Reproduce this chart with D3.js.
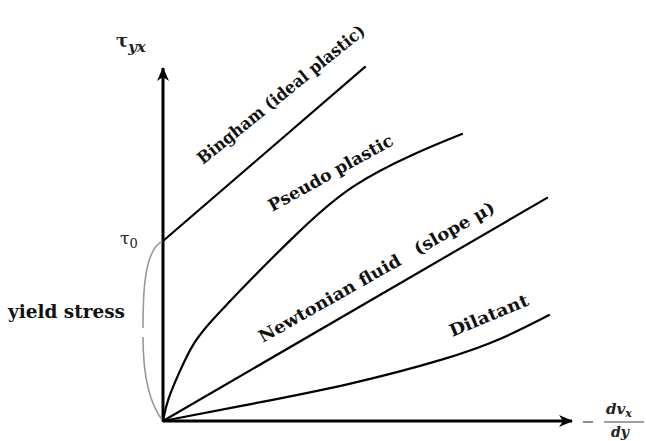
<!DOCTYPE html>
<html>
<head>
<meta charset="utf-8">
<script src="https://cdn.jsdelivr.net/npm/d3@7"></script>
<style>
  html, body { margin: 0; padding: 0; background: #fff; }
  svg { display: block; }
</style>
</head>
<body>
<svg id="chart" width="646" height="441"></svg>
<script>
// Shear rate (x) vs shear stress (y), arbitrary units 0..10
const binghamPts   = [[0, 5.10], [4.94, 10.03]];
const pseudoPts    = [[0, 0], [0.10, 0.59], [0.42, 1.44], [0.73, 2.21], [1.15, 2.80], [1.56, 3.30],
                      [2.05, 3.90], [3.35, 5.41], [4.57, 6.69], [6.21, 7.62], [7.31, 8.13]];
const newtonianPts = [[0, 0], [9.39, 6.32]];
const dilatantPts  = [[0, 0], [1.88, 0.42], [4.57, 1.02], [7.02, 1.78], [8.24, 2.29], [9.44, 3.00]];
const yieldStress  = 5.10;

const curveLabels = ["Bingham (ideal plastic)", "Pseudo plastic", "Newtonian fluid\u2003(slope \u03bc)", "Dilatant"];

const svg = d3.select("#chart");
const x = d3.scaleLinear().domain([0, 10]).range([163, 572]);
const y = d3.scaleLinear().domain([0, 10]).range([421, 68]);

// arrowhead marker for the axes
svg.append("defs").append("marker")
  .attr("id", "arrow")
  .attr("markerUnits", "userSpaceOnUse")
  .attr("viewBox", "-14 -7 16 14")
  .attr("refX", 0).attr("refY", 0)
  .attr("markerWidth", 16).attr("markerHeight", 14)
  .attr("orient", "auto")
  .append("path")
  .attr("d", "M1,0 L-13,-6 L-9,0 L-13,6 Z")
  .attr("fill", "#000");

// axes
svg.append("line")
  .attr("x1", x(0)).attr("y1", y(0)).attr("x2", x(0)).attr("y2", y(10))
  .attr("stroke", "#000").attr("stroke-width", 3)
  .attr("marker-end", "url(#arrow)");
svg.append("line")
  .attr("x1", x(0)).attr("y1", y(0)).attr("x2", x(10)).attr("y2", y(0))
  .attr("stroke", "#000").attr("stroke-width", 3)
  .attr("marker-end", "url(#arrow)");

// yield-stress bracket: two gray arcs between the origin and tau_0
const bx = x(0), bTop = y(yieldStress), bBot = y(0), bMid = (bTop + bBot) / 2;
const rx = 20, gap = 3;
svg.append("path")
  .attr("d", `M${bx},${bTop} C${bx - rx},${bTop + 8} ${bx - rx},${bMid - 30} ${bx - rx},${bMid - gap}`)
  .attr("fill", "none").attr("stroke", "#999").attr("stroke-width", 1.6);
svg.append("path")
  .attr("d", `M${bx - rx},${bMid + gap + 3} C${bx - rx},${bMid + 50} ${bx - rx * 0.6},${bBot - 15} ${bx},${bBot}`)
  .attr("fill", "none").attr("stroke", "#999").attr("stroke-width", 1.6);

// flow curves
const line = d3.line().x(d => x(d[0])).y(d => y(d[1])).curve(d3.curveBasis);
[binghamPts, pseudoPts, newtonianPts, dilatantPts].forEach(pts => {
  svg.append("path")
    .attr("d", line(pts))
    .attr("fill", "none")
    .attr("stroke", "#000")
    .attr("stroke-width", 2.2)
    .attr("stroke-linecap", "round");
});

// rotated curve labels: [text, x, y, angle, length]
const labelPlacement = [
  [curveLabels[0], 0.98, 7.25, -39, 210],
  [curveLabels[1], 2.67, 5.92, -29, 140],
  [curveLabels[2], 2.44, 2.21, -29.5, 268],
  [curveLabels[3], 7.07, 2.38, -22.5, 84]
];
labelPlacement.forEach(([t, lx, ly, ang, len]) => {
  svg.append("text")
    .attr("transform", `translate(${x(lx)},${y(ly)}) rotate(${ang})`)
    .attr("font-family", "DejaVu Serif")
    .attr("font-weight", "bold")
    .attr("font-size", 17)
    .attr("textLength", len)
    .attr("lengthAdjust", "spacingAndGlyphs")
    .style("white-space", "pre")
    .attr("fill", "#111")
    .text(t);
});

// y-axis title
const yt = svg.append("text")
  .attr("x", 116).attr("y", 47)
  .attr("font-family", "DejaVu Serif")
  .attr("font-weight", "bold")
  .attr("font-size", 18)
  .attr("fill", "#222");
yt.append("tspan").text("\u03c4");
yt.append("tspan").attr("dy", 5).attr("font-size", 15).attr("font-style", "italic").text("yx");

// tau_0
const t0 = svg.append("text")
  .attr("x", 120).attr("y", 244)
  .attr("font-family", "DejaVu Serif")
  .attr("font-size", 17)
  .attr("fill", "#222");
t0.append("tspan").text("\u03c4");
t0.append("tspan").attr("dy", 4).attr("font-size", 13).text("0");

// yield stress
svg.append("text")
  .attr("x", 8).attr("y", 318)
  .attr("font-family", "DejaVu Serif")
  .attr("font-weight", "bold")
  .attr("font-size", 18)
  .attr("textLength", 117)
  .attr("lengthAdjust", "spacingAndGlyphs")
  .attr("fill", "#111")
  .text("yield stress");

// x-axis title: - dv_x / dy
svg.append("line")
  .attr("x1", 583).attr("x2", 593).attr("y1", 422).attr("y2", 422)
  .attr("stroke", "#666").attr("stroke-width", 1.5);
const num = svg.append("text")
  .attr("x", 606).attr("y", 414)
  .attr("font-family", "DejaVu Serif")
  .attr("font-style", "italic")
  .attr("font-weight", "bold")
  .attr("font-size", 15)
  .attr("fill", "#222");
num.append("tspan").text("dv");
num.append("tspan").attr("dy", 3).attr("font-size", 11).text("x");
svg.append("line")
  .attr("x1", 604).attr("x2", 644).attr("y1", 422).attr("y2", 422)
  .attr("stroke", "#444").attr("stroke-width", 1.2);
svg.append("text")
  .attr("x", 611).attr("y", 437)
  .attr("font-family", "DejaVu Serif")
  .attr("font-style", "italic")
  .attr("font-weight", "bold")
  .attr("font-size", 14)
  .attr("fill", "#222")
  .text("dy");
</script>
</body>
</html>
